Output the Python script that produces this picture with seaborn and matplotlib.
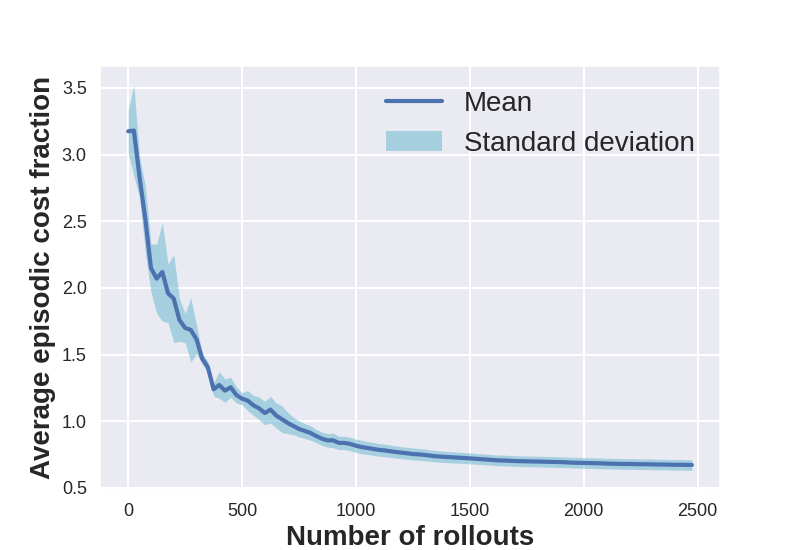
import numpy as np
import pandas as pd
import matplotlib
matplotlib.use("Agg")
import matplotlib.pyplot as plt
import seaborn as sns

rollouts = list(range(0, 2500, 25))

mean_cost = [
    3.175, 3.18, 2.83, 2.52, 2.15, 2.07, 2.12, 1.96, 1.92, 1.76,
    1.70, 1.685, 1.615, 1.47, 1.405, 1.24, 1.272, 1.23, 1.255, 1.197,
    1.17, 1.155, 1.12, 1.097, 1.062, 1.088, 1.043, 1.016, 0.988, 0.965,
    0.943, 0.928, 0.913, 0.89, 0.87, 0.857, 0.857, 0.838, 0.838, 0.83,
    0.817, 0.807, 0.80, 0.793, 0.786, 0.782, 0.776, 0.770, 0.765, 0.760,
    0.755, 0.752, 0.748, 0.743, 0.738, 0.735, 0.732, 0.730, 0.727, 0.725,
    0.722, 0.719, 0.716, 0.713, 0.710, 0.707, 0.706, 0.704, 0.702, 0.701,
    0.700, 0.699, 0.698, 0.697, 0.696, 0.695, 0.694, 0.692, 0.690, 0.689,
    0.688, 0.687, 0.686, 0.685, 0.683, 0.682, 0.681, 0.680, 0.680, 0.679,
    0.678, 0.678, 0.677, 0.676, 0.676, 0.675, 0.674, 0.674, 0.673, 0.673,
]

std_cost = [
    0.16, 0.34, 0.15, 0.25, 0.18, 0.26, 0.37, 0.22, 0.33, 0.16,
    0.11, 0.24, 0.11, 0.04, 0.045, 0.05, 0.10, 0.088, 0.075, 0.06,
    0.045, 0.075, 0.075, 0.085, 0.088, 0.10, 0.093, 0.10, 0.08, 0.065,
    0.06, 0.056, 0.055, 0.05, 0.05, 0.05, 0.055, 0.05, 0.05, 0.05,
    0.05, 0.05, 0.048, 0.048, 0.047, 0.047, 0.046, 0.046, 0.045, 0.045,
    0.045, 0.044, 0.044, 0.043, 0.043, 0.042, 0.042, 0.042, 0.041, 0.041,
    0.041, 0.040, 0.040, 0.040, 0.040, 0.040, 0.040, 0.040, 0.040, 0.040,
    0.040, 0.040, 0.040, 0.040, 0.040, 0.040, 0.040, 0.040, 0.040, 0.040,
    0.040, 0.040, 0.040, 0.040, 0.040, 0.040, 0.040, 0.040, 0.040, 0.040,
    0.040, 0.040, 0.040, 0.040, 0.040, 0.040, 0.040, 0.040, 0.040, 0.040,
]

x_label = "Number of rollouts"
y_label = "Average episodic cost fraction"
legend_labels = ["Mean", "Standard deviation"]

sns.set_theme(style="darkgrid", rc={"grid.linewidth": 1.5})
plt.rcParams["font.family"] = ["Liberation Sans", "DejaVu Sans"]

df = pd.DataFrame({"rollouts": rollouts, "mean": mean_cost, "std": std_cost})
lower = df["mean"] - df["std"]
upper = df["mean"] + df["std"]

fig, ax = plt.subplots(figsize=(8, 5.5), dpi=100)
ax.fill_between(df["rollouts"], lower, upper, color="#64B5CD", alpha=0.5,
                linewidth=0, label=legend_labels[1])
sns.lineplot(data=df, x="rollouts", y="mean", ax=ax, color="#4C72B0",
             linewidth=3, label=legend_labels[0])

ax.set_xlabel(x_label, fontsize=20, fontweight="bold")
ax.set_ylabel(y_label, fontsize=20, fontweight="bold")
ax.tick_params(labelsize=13)

handles, labels = ax.get_legend_handles_labels()
order = [labels.index(legend_labels[0]), labels.index(legend_labels[1])]
ax.legend([handles[i] for i in order], [labels[i] for i in order],
          loc="upper right", fontsize=20, frameon=False)

fig.savefig("out.png", dpi=100)
